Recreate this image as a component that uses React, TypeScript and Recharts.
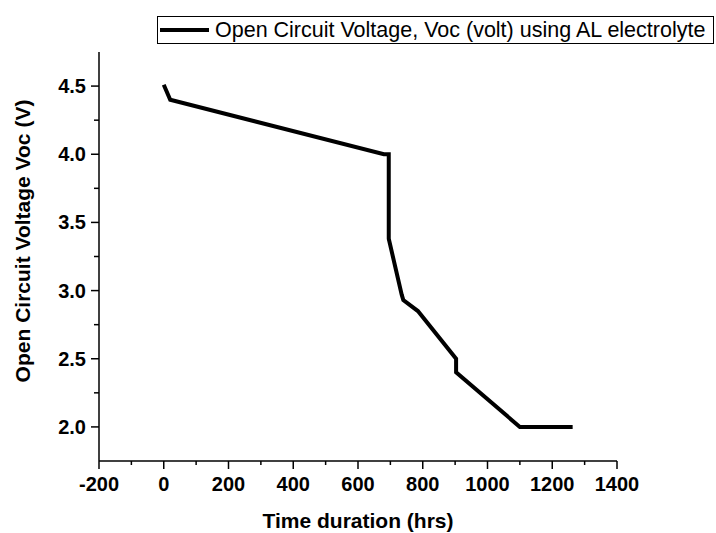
// VocDischargeChart - 개방 회로 전압 방전 곡선

import { LineChart, Line, XAxis, YAxis, Label } from "recharts";

const timeHrs = [0, 20, 680, 695, 695, 735, 740, 785, 903, 903, 1100, 1263];
const vocVolt = [4.51, 4.4, 4.0, 4.0, 3.38, 2.97, 2.93, 2.85, 2.5, 2.4, 2.0, 2.0];

const xTicks = [-200, -100, 0, 100, 200, 300, 400, 500, 600, 700, 800, 900, 1000, 1100, 1200, 1300, 1400];
const yTicks = [2.0, 2.25, 2.5, 2.75, 3.0, 3.25, 3.5, 3.75, 4.0, 4.25, 4.5];

const LEGEND_LABEL = "Open Circuit Voltage, Voc (volt) using AL electrolyte";
const X_TITLE = "Time duration (hrs)";
const Y_TITLE = "Open Circuit Voltage Voc (V)";

const FONT = "Arial, 'Liberation Sans', sans-serif";

const chartData = timeHrs.map((t, i) => ({ t, v: vocVolt[i] }));

function XTick(props: any) {
  const { x, y, payload } = props;
  const major = payload.value % 200 === 0;
  return (
    <g>
      <line x1={x} x2={x} y1={y} y2={y + (major ? 8 : 4)} stroke="#000" strokeWidth={1.5} />
      {major && (
        <text x={x} y={y + 30} textAnchor="middle" fontSize={20} fontWeight="bold" fontFamily={FONT} fill="#000">
          {payload.value}
        </text>
      )}
    </g>
  );
}

function YTick(props: any) {
  const { x, y, payload } = props;
  const v = payload.value as number;
  const major = Math.abs(v * 2 - Math.round(v * 2)) < 1e-6;
  return (
    <g>
      <line x1={x - (major ? 8 : 5)} x2={x} y1={y} y2={y} stroke="#000" strokeWidth={1.5} />
      {major && (
        <text x={x - 13} y={y + 7} textAnchor="end" fontSize={20} fontWeight="bold" fontFamily={FONT} fill="#000">
          {v.toFixed(1)}
        </text>
      )}
    </g>
  );
}

export default function App() {
  return (
    <div style={{ position: "absolute", left: 0, top: 0, width: 716, height: 533, background: "#fff" }}>
      <LineChart width={716} height={533} data={chartData} margin={{ top: 52, right: 99, left: 0, bottom: 0 }}>
        <XAxis
          type="number"
          dataKey="t"
          domain={[-200, 1400]}
          ticks={xTicks}
          interval={0}
          height={72}
          tickSize={0}
          tickMargin={0}
          tickLine={false}
          tick={XTick}
          axisLine={{ stroke: "#000", strokeWidth: 1.5 }}
          allowDataOverflow
        >
          <Label
            content={() => (
              <text x={358} y={528} textAnchor="middle" fontSize={21} fontWeight="bold" fontFamily={FONT} fill="#000">
                {X_TITLE}
              </text>
            )}
          />
        </XAxis>
        <YAxis
          type="number"
          domain={[1.75, 4.75]}
          ticks={yTicks}
          interval={0}
          width={99}
          tickSize={0}
          tickMargin={0}
          tickLine={false}
          tick={YTick}
          axisLine={{ stroke: "#000", strokeWidth: 1.5 }}
          allowDataOverflow
        >
          <Label
            content={() => (
              <text
                x={30}
                y={241}
                transform="rotate(-90 30 241)"
                textAnchor="middle"
                fontSize={21}
                fontWeight="bold"
                fontFamily={FONT}
                fill="#000"
              >
                {Y_TITLE}
              </text>
            )}
          />
        </YAxis>
        <Line
          type="linear"
          dataKey="v"
          stroke="#000"
          strokeWidth={4}
          strokeLinejoin="miter"
          dot={false}
          isAnimationActive={false}
        />
      </LineChart>
      <div
        style={{
          position: "absolute",
          left: 157,
          top: 16,
          width: 557,
          height: 28,
          boxSizing: "border-box",
          border: "1px solid #000",
          background: "#fff",
          display: "flex",
          alignItems: "center",
          fontFamily: FONT,
          fontSize: 21.5,
          whiteSpace: "nowrap",
        }}
      >
        <span style={{ display: "inline-block", width: 49, height: 4, background: "#000", marginLeft: 2 }} />
        <span style={{ marginLeft: 6 }}>{LEGEND_LABEL}</span>
      </div>
    </div>
  );
}
